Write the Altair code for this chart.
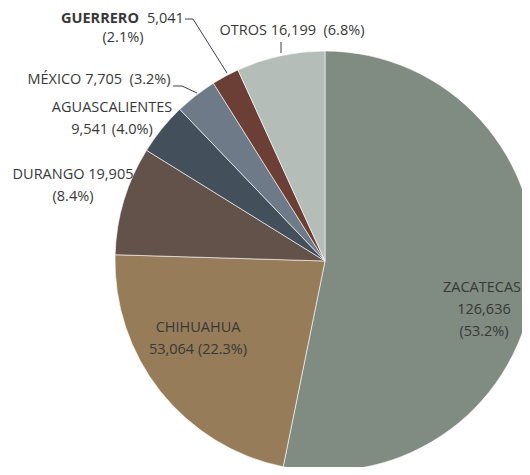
import altair as alt
import pandas as pd

# ---- data ----
names = ["ZACATECAS", "CHIHUAHUA", "DURANGO", "AGUASCALIENTES", "MÉXICO", "GUERRERO", "OTROS"]
values = [126636, 53064, 19905, 9541, 7705, 5041, 16199]
colors = ["#808b81", "#967c59", "#63524a", "#434f5b", "#6f7a88", "#6b3f36", "#b4bdb7"]

total = sum(values)
pct = {n: f"({v / total * 100:.1f}%)" for n, v in zip(names, values)}
num = {n: f"{v:,}" for n, v in zip(names, values)}

df = pd.DataFrame({"name": names, "value": values, "order": list(range(len(names)))})

# ---- layout (page px -> chart px) ----
W, H = 514, 459
OX, OY = 8, 8
CX, CY, R = 325 - OX, 261 - OY, 210
NB = "\u00a0"

# annotation text: (text, x, y, align, weight)
ann = [
    ("ZACATECAS", 482, 288, "center", "normal"),
    (num["ZACATECAS"], 484, 310, "center", "normal"),
    (pct["ZACATECAS"], 484, 332, "center", "normal"),
    ("CHIHUAHUA", 198, 328, "center", "normal"),
    (f"{num['CHIHUAHUA']} {pct['CHIHUAHUA']}", 198, 350, "center", "normal"),
    (f"DURANGO {num['DURANGO']}", 73, 175, "center", "normal"),
    (pct["DURANGO"], 73, 197, "center", "normal"),
    ("AGUASCALIENTES", 112, 108, "center", "normal"),
    (f"{num['AGUASCALIENTES']} {pct['AGUASCALIENTES']}", 112, 130, "center", "normal"),
    (f"MÉXICO {num['MÉXICO']} {NB}{pct['MÉXICO']}", 99, 80, "center", "normal"),
    ("GUERRERO", 61, 19, "left", "bold"),
    (num["GUERRERO"], 147, 19, "left", "normal"),
    (pct["GUERRERO"], 123, 38, "center", "normal"),
    (f"OTROS {num['OTROS']} {NB}{pct['OTROS']}", 292, 31, "center", "normal"),
]
ann_df = pd.DataFrame(ann, columns=["t", "x", "y", "align", "weight"])
ann_df["x"] = ann_df["x"] - OX
ann_df["y"] = ann_df["y"] - OY

segs = [
    (185, 19, 193, 19), (193, 19, 227, 73),
    (173, 86, 182, 86), (182, 86, 197, 93),
    (281, 42, 281, 53),
]
seg_df = pd.DataFrame(segs, columns=["x", "y", "x2", "y2"])
for c in ["x", "x2"]:
    seg_df[c] = seg_df[c] - OX
for c in ["y", "y2"]:
    seg_df[c] = seg_df[c] - OY

pie = alt.Chart(df).mark_arc(outerRadius=R, stroke="#ffffff", strokeWidth=0.6).encode(
    theta=alt.Theta("value:Q", stack=True),
    order=alt.Order("order:Q"),
    color=alt.Color("name:N", scale=alt.Scale(domain=names, range=colors), legend=None),
    x=alt.value(CX),
    y=alt.value(CY),
)

lines = alt.Chart(seg_df).mark_rule(color="#404040", strokeWidth=1).encode(
    x=alt.X("x:Q", scale=None), y=alt.Y("y:Q", scale=None),
    x2="x2:Q", y2="y2:Q",
)

layers = [pie, lines]
for al in ["center", "left"]:
    for wt in ["normal", "bold"]:
        sub = ann_df[(ann_df["align"] == al) & (ann_df["weight"] == wt)]
        if len(sub) == 0:
            continue
        layers.append(
            alt.Chart(sub).mark_text(
                font="Open Sans", fontSize=14.5, fontWeight=wt, align=al,
                baseline="middle", color="#383838",
            ).encode(x=alt.X("x:Q", scale=None), y=alt.Y("y:Q", scale=None), text="t:N")
        )

chart = alt.layer(*layers).properties(
    width=W, height=H, padding=0, autosize=alt.AutoSizeParams(type="none"),
    background="#ffffff",
).configure_view(stroke=None)

chart.save("out.html", embed_options={"renderer": "svg", "actions": False})
